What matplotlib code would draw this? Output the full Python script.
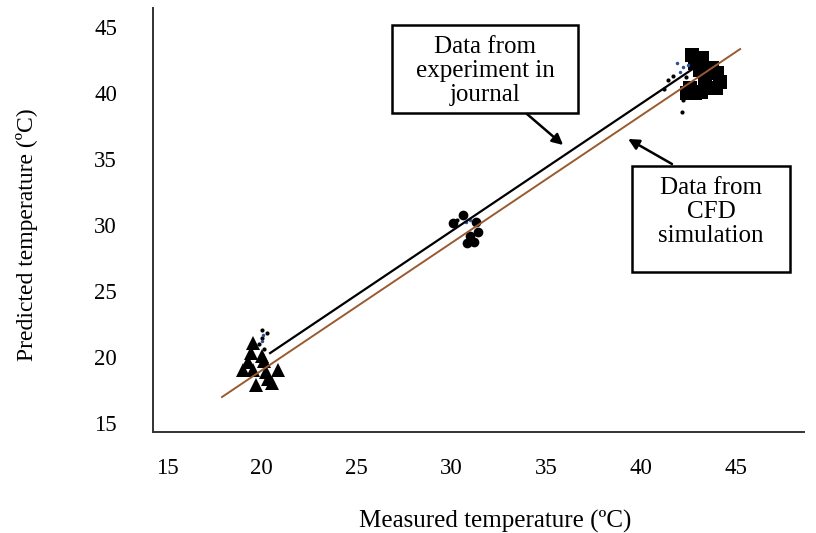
import matplotlib
matplotlib.use("Agg")
import matplotlib.pyplot as plt
from matplotlib.patches import Rectangle

plt.rcParams['font.family'] = ['Liberation Serif', 'DejaVu Serif']

# ---- data ----
x_ticks = [15, 20, 25, 30, 35, 40, 45]
y_ticks = [15, 20, 25, 30, 35, 40, 45]

# cluster near 20 (triangles)
tri_x = [19.54, 19.43, 20.01, 19.27, 20.12, 19.01, 19.54, 20.22, 20.86, 20.33, 19.70, 20.54]
tri_y = [21.06, 20.30, 20.08, 19.62, 19.70, 19.02, 19.02, 18.86, 19.02, 18.33, 17.88, 18.03]

# cluster near 30 (round blobs)
blob_x = [30.62, 30.09, 31.31, 31.41, 30.99, 30.83, 31.20]
blob_y = [30.76, 30.15, 30.23, 29.47, 29.17, 28.64, 28.71]

# cluster near 40 (squares)
sq_x = [42.70, 43.23, 42.86, 43.13, 43.76, 44.02, 44.18, 43.96, 43.39, 43.50, 42.60, 42.86, 42.44, 43.20]
sq_y = [42.88, 42.65, 42.27, 41.74, 41.89, 41.52, 40.83, 40.38, 40.98, 40.38, 40.38, 40.00, 40.00, 40.05]

# small black dots
dot_x = [20.01, 20.28, 20.01, 19.85, 20.12, 30.30, 41.44, 42.23, 42.18, 41.70, 42.40, 41.20]
dot_y = [22.05, 21.82, 21.44, 20.98, 20.61, 30.40, 40.98, 39.47, 38.56, 41.30, 41.20, 40.30]

# small blue dots
blue_x = [20.07, 20.01, 30.78, 30.99, 41.91, 42.23, 42.49, 42.05]
blue_y = [21.67, 21.21, 30.23, 30.38, 42.27, 41.97, 42.12, 41.60]

# fitted lines
exp_line_x = [20.44, 43.13]
exp_line_y = [20.30, 42.20]
cfd_line_x = [17.90, 45.24]
cfd_line_y = [16.97, 43.33]

fig = plt.figure(figsize=(8.16, 5.33), dpi=100)
ax = fig.add_axes([153/816, (533-432)/533, 651/816, 424/533])
ax.set_xlim(14.26, 48.61)
ax.set_ylim(14.32, 46.44)

ax.plot(tri_x, tri_y, '^', color='black', ms=10, mew=0, zorder=3)
ax.plot(blob_x, blob_y, 'o', color='black', ms=7, mew=0, zorder=3)
ax.plot(sq_x, sq_y, 's', color='black', ms=9.5, mew=0, zorder=3)
ax.plot(dot_x, dot_y, 'o', color='black', ms=3, mew=0, zorder=3)
ax.plot(blue_x, blue_y, 'o', color='#2a4f9a', ms=2.5, mew=0, zorder=4)

ax.plot(exp_line_x, exp_line_y, '-', color='black', lw=1.6, zorder=5)
ax.plot(cfd_line_x, cfd_line_y, '-', color='#9a5a30', lw=1.4, zorder=5)

for s in ['top', 'right']:
    ax.spines[s].set_visible(False)
for s in ['left', 'bottom']:
    ax.spines[s].set_linewidth(1.4)
    ax.spines[s].set_color('#333333')

ax.set_xticks(x_ticks)
ax.set_yticks(y_ticks)
ax.tick_params(axis='both', length=0, labelsize=16.5)
ax.tick_params(axis='x', pad=19)
ax.tick_params(axis='y', pad=26)

ax.set_xlabel('Measured temperature (ºC)', fontsize=18)
ax.set_ylabel('Predicted temperature (ºC)', fontsize=17)
ax.xaxis.set_label_coords(0.525, -0.183)
ax.yaxis.set_label_coords(-0.177, 0.465)

# annotation boxes
fig.patches.append(Rectangle((392/816, (533-113)/533), 186/816, 88/533,
                             transform=fig.transFigure, fill=False,
                             edgecolor='black', lw=1.8))
fig.text(485/816, (533-71)/533, 'Data from\nexperiment in\njournal', ha='center',
         va='center', fontsize=18, linespacing=1.12)

fig.patches.append(Rectangle((632/816, (533-272)/533), 158/816, 106/533,
                             transform=fig.transFigure, fill=False,
                             edgecolor='black', lw=1.8))
fig.text(711/816, (533-212)/533, 'Data from\nCFD\nsimulation', ha='center',
         va='center', fontsize=18, linespacing=1.12)

ax.annotate('', xy=(35.90, 36.06), xycoords='data',
            xytext=(527, 533-114), textcoords='figure pixels',
            arrowprops=dict(arrowstyle='-|>', color='black', lw=1.8,
                            mutation_scale=16, shrinkA=0, shrinkB=0))
ax.annotate('', xy=(39.33, 36.52), xycoords='data',
            xytext=(672, 533-164), textcoords='figure pixels',
            arrowprops=dict(arrowstyle='-|>', color='black', lw=1.8,
                            mutation_scale=16, shrinkA=0, shrinkB=0))

fig.savefig('out.png', dpi=100)
